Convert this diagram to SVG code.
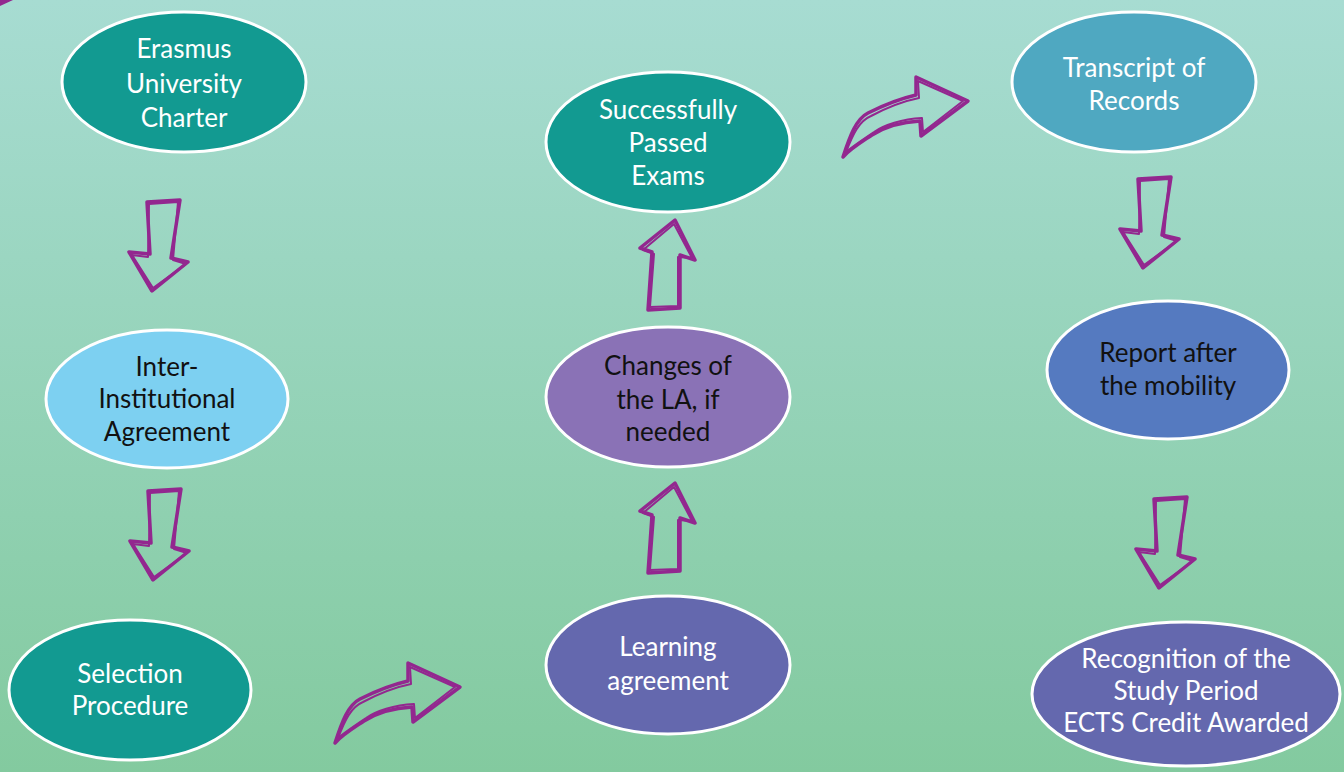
<svg xmlns="http://www.w3.org/2000/svg" xmlns:xlink="http://www.w3.org/1999/xlink" width="1344" height="772" viewBox="0 0 1344 772">
<defs>
<linearGradient id="bg" x1="0" y1="0" x2="0" y2="1">
<stop offset="0" stop-color="#A7DCD2"/>
<stop offset="1" stop-color="#83CA9F"/>
</linearGradient>
<style>
.n{stroke:#fff;stroke-width:3}
.t{font-family:Lato,"Open Sans","Liberation Sans",sans-serif;font-size:26px;text-anchor:middle}
.w{fill:#fff}
.k{fill:#111}
.ar{fill:none;stroke:#93278F;stroke-width:3.5;stroke-linejoin:round;stroke-linecap:round}
.ar2{fill:none;stroke:#93278F;stroke-width:2;stroke-linejoin:round;stroke-linecap:round}
</style>
<g id="down">
<path class="ar" d="M18,2 L51,0 L42,58 L59,62 L23,91 L0,52 L21,54 Z"/>
<path class="ar2" d="M20,4 L49,2 L44,60 L57,64 L24,88 L3,55 L19,57 Z"/>
</g>
<g id="up">
<path class="ar" d="M39,0 L59,40 L44,35 L44,88 L12,90 L16,32 L4,28 Z"/>
<path class="ar2" d="M38,4 L56,38 L42,37 L42,86 L14,87 L18,34 L7,30 Z"/>
</g>
<g id="curve">
<path class="ar" d="M15,93 C22,72 28,55 40,49 C58,40 75,34 88,31 L88,13 L140,37 L93,72 L92,57 C72,58 55,64 44,71 C32,79 22,85 15,93 Z"/>
<path class="ar2" d="M18,88 C25,70 31,57 43,52 C60,43 76,37 91,34 L90,17 L135,37 L95,68 L94,54 C74,55 56,61 46,68 C34,76 25,82 18,88"/>
</g>
</defs>
<rect x="0" y="0" width="1344" height="772" fill="url(#bg)"/>
<path d="M0,0 L13,0 L0,6 Z" fill="#93278F"/>

<g id="connectors">
<use xlink:href="#down" x="129" y="200"/>
<use xlink:href="#down" x="130" y="489"/>
<use xlink:href="#curve" x="320" y="650"/>
<use xlink:href="#up" x="636" y="483"/>
<use xlink:href="#up" x="636" y="220"/>
<use xlink:href="#curve" x="828" y="64"/>
<use xlink:href="#down" x="1120" y="177"/>
<use xlink:href="#down" x="1136" y="497"/>
</g>

<g id="erasmus">
<ellipse class="n" cx="184" cy="82" rx="122" ry="70" fill="#129A91"/>
<text class="t w" x="184" y="58">Erasmus</text>
<text class="t w" x="184" y="93">University</text>
<text class="t w" x="184" y="127">Charter</text>
</g>
<g id="interinst">
<ellipse class="n" cx="167" cy="399" rx="121" ry="69" fill="#7DD0F1"/>
<text class="t k" x="167" y="376">Inter-</text>
<text class="t k" x="167" y="408">Institutional</text>
<text class="t k" x="167" y="441">Agreement</text>
</g>
<g id="selection">
<ellipse class="n" cx="130" cy="690" rx="121" ry="70" fill="#129A91"/>
<text class="t w" x="130" y="683">Selection</text>
<text class="t w" x="130" y="715">Procedure</text>
</g>
<g id="exams">
<ellipse class="n" cx="668" cy="142" rx="122" ry="70" fill="#129A91"/>
<text class="t w" x="668" y="119">Successfully</text>
<text class="t w" x="668" y="152">Passed</text>
<text class="t w" x="668" y="185">Exams</text>
</g>
<g id="changes">
<ellipse class="n" cx="668" cy="397" rx="122" ry="70" fill="#8A72B6"/>
<text class="t k" x="668" y="375">Changes of</text>
<text class="t k" x="668" y="409">the LA, if</text>
<text class="t k" x="668" y="441">needed</text>
</g>
<g id="learning">
<ellipse class="n" cx="668" cy="665" rx="122" ry="69" fill="#6468AE"/>
<text class="t w" x="668" y="656">Learning</text>
<text class="t w" x="668" y="690">agreement</text>
</g>
<g id="transcript">
<ellipse class="n" cx="1134" cy="82" rx="122" ry="70" fill="#4FA8C1"/>
<text class="t w" x="1134" y="77">Transcript of</text>
<text class="t w" x="1134" y="110">Records</text>
</g>
<g id="report">
<ellipse class="n" cx="1168" cy="370" rx="121" ry="69" fill="#557AC0"/>
<text class="t k" x="1168" y="362">Report after</text>
<text class="t k" x="1168" y="395">the mobility</text>
</g>
<g id="recognition">
<ellipse class="n" cx="1186" cy="694" rx="154" ry="72" fill="#6468AE"/>
<text class="t w" x="1186" y="668">Recognition of the</text>
<text class="t w" x="1186" y="700">Study Period</text>
<text class="t w" x="1186" y="732">ECTS Credit Awarded</text>
</g>
</svg>
